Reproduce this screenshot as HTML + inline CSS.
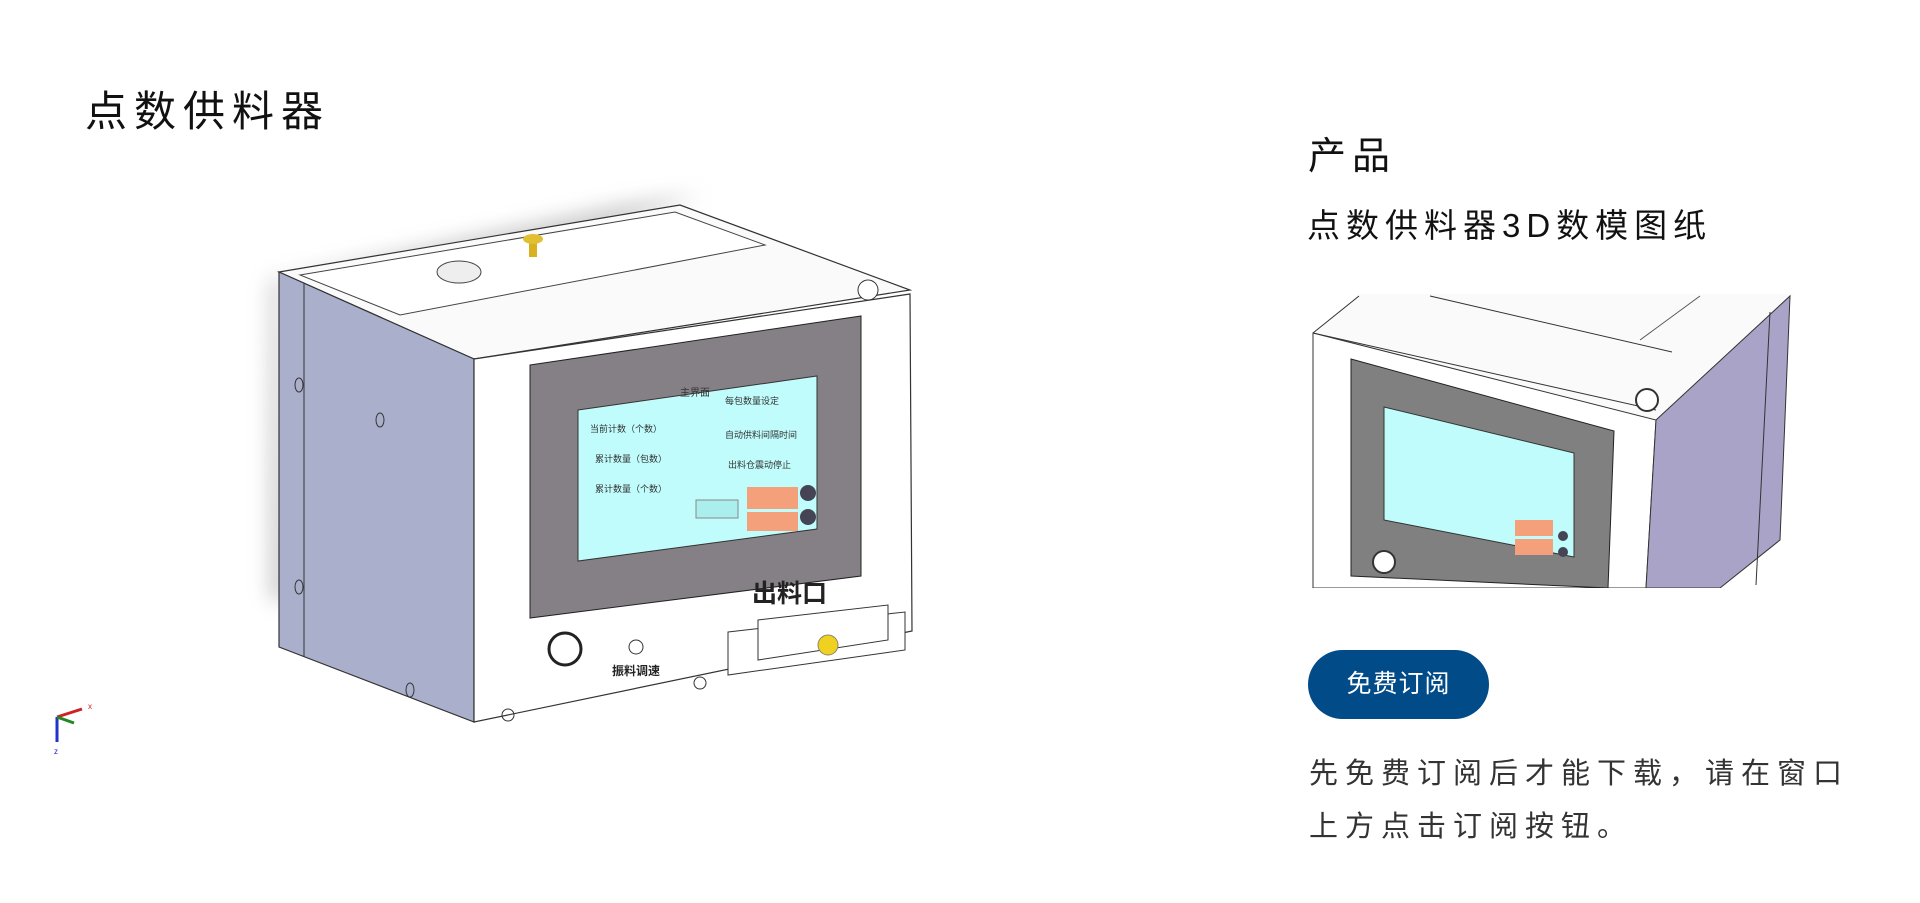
<!DOCTYPE html>
<html><head><meta charset="utf-8"><style>
html,body{margin:0;padding:0;background:#fff;width:1920px;height:903px;overflow:hidden;font-family:"Liberation Sans","Noto Sans CJK SC",sans-serif;}
.t{position:absolute;white-space:nowrap;color:#111;}
</style></head><body>
<div class="t" style="left:85px;top:78px;font-size:42px;letter-spacing:7px;">点数供料器</div>
<svg style="position:absolute;left:0;top:0" width="1920" height="903">
<defs><filter id="b" x="-50%" y="-50%" width="200%" height="200%"><feGaussianBlur stdDeviation="10"/></filter></defs>
<polygon points="270,280 620,205 700,195 560,250 280,280 290,600 270,600" fill="#999" opacity="0.5" filter="url(#b)"/>
<polygon points="279,272 680,205 910,290 474,359" fill="#fafafa" stroke="#333" stroke-width="1.2"/>
<polygon points="300,275 675,212 765,245 400,315" fill="#fff" stroke="#444" stroke-width="1"/>
<ellipse cx="459" cy="272" rx="22" ry="11" fill="#eee" stroke="#444"/>
<rect x="529" y="239" width="8" height="18" fill="#d8b020"/><ellipse cx="533" cy="239" rx="10" ry="5" fill="#e0c030"/>
<circle cx="868" cy="290" r="10" fill="#fff" stroke="#333"/>
<polygon points="279,272 474,359 474,722 279,647" fill="#aab0cc" stroke="#333" stroke-width="1.2"/>
<line x1="304" y1="283" x2="304" y2="657" stroke="#333"/>
<ellipse cx="299" cy="385" rx="4" ry="7" fill="none" stroke="#333"/>
<ellipse cx="380" cy="420" rx="4" ry="7" fill="none" stroke="#333"/>
<ellipse cx="299" cy="587" rx="4" ry="7" fill="none" stroke="#333"/>
<ellipse cx="410" cy="690" rx="4" ry="7" fill="none" stroke="#333"/>
<polygon points="474,359 910,294 912,631 474,722" fill="#fff" stroke="#333" stroke-width="1.2"/>
<polygon points="530,365 861,316 861,576 530,618" fill="#858085" stroke="#222"/>
<polygon points="578,410 817,376 817,529 578,561" fill="#c0fcfc" stroke="#333"/>
<rect x="747" y="487" width="51" height="22" fill="#f4a07a"/>
<rect x="747" y="512" width="51" height="19" fill="#f4a07a"/>
<circle cx="808" cy="493" r="8" fill="#445"/><circle cx="808" cy="517" r="8" fill="#445"/>
<rect x="696" y="500" width="42" height="18" fill="#aee" stroke="#888"/>
<text x="680" y="396" font-size="10" fill="#333">主界面</text>
<text x="590" y="432" font-size="9" fill="#333">当前计数（个数）</text>
<text x="595" y="462" font-size="9" fill="#333">累计数量（包数）</text>
<text x="595" y="492" font-size="9" fill="#333">累计数量（个数）</text>
<text x="725" y="404" font-size="9" fill="#333">每包数量设定</text>
<text x="725" y="438" font-size="9" fill="#333">自动供料间隔时间</text>
<text x="728" y="468" font-size="9" fill="#333">出料仓震动停止</text>
<text x="752" y="602" font-size="25" font-weight="bold" fill="#222">出料口</text>
<polygon points="728,632 905,612 905,650 728,675" fill="#fff" stroke="#333"/>
<polygon points="758,620 888,605 888,640 758,660" fill="#fff" stroke="#333"/>
<circle cx="828" cy="645" r="10" fill="#f0d020" stroke="#886"/>
<circle cx="565" cy="649" r="16" fill="#fff" stroke="#222" stroke-width="3"/>
<circle cx="636" cy="647" r="7" fill="#fff" stroke="#333"/>
<text x="612" y="675" font-size="12" font-weight="bold" fill="#222">振料调速</text>
<circle cx="700" cy="683" r="6" fill="none" stroke="#333"/><circle cx="508" cy="715" r="6" fill="none" stroke="#333"/>
<line x1="57" y1="717" x2="57" y2="742" stroke="#2233cc" stroke-width="3"/>
<line x1="57" y1="717" x2="82" y2="709" stroke="#cc2222" stroke-width="3"/>
<line x1="57" y1="717" x2="74" y2="723" stroke="#228822" stroke-width="3"/>
<text x="88" y="709" font-size="8" fill="#c22">x</text><text x="54" y="754" font-size="8" fill="#22c">z</text>
<polygon points="1313,333 1359,294 1794,294 1656,429" fill="#fafafa"/>
<line x1="1313" y1="333" x2="1656" y2="410" stroke="#333"/>
<line x1="1313" y1="333" x2="1359" y2="296" stroke="#333"/>
<line x1="1430" y1="296" x2="1672" y2="352" stroke="#333"/>
<line x1="1640" y1="340" x2="1700" y2="296" stroke="#555"/>
<polygon points="1313,333 1656,420 1646,588 1313,588" fill="#fff" stroke="#333"/>
<polygon points="1656,420 1790,296 1780,540 1720,588 1646,588" fill="#a9a3c8" stroke="#333"/>
<line x1="1770" y1="312" x2="1756" y2="585" stroke="#333"/>
<polygon points="1351,359 1614,431 1608,588 1351,576" fill="#808080" stroke="#222"/>
<polygon points="1384,407 1574,453 1574,557 1384,520" fill="#c0fcfc" stroke="#333"/>
<rect x="1515" y="520" width="38" height="16" fill="#f4a07a"/><rect x="1515" y="539" width="38" height="16" fill="#f4a07a"/>
<circle cx="1563" cy="536" r="5" fill="#445"/><circle cx="1563" cy="552" r="5" fill="#445"/>
<circle cx="1647" cy="400" r="11" fill="#fff" stroke="#333" stroke-width="2"/>
<circle cx="1384" cy="562" r="11" fill="#fff" stroke="#333" stroke-width="2"/>
<rect x="1290" y="588" width="540" height="40" fill="#fff"/>
</svg>
<div class="t" style="left:1308px;top:125px;font-size:38px;letter-spacing:6px;">产品</div>
<div class="t" style="left:1307px;top:199px;font-size:33px;letter-spacing:6px;">点数供料器3D数模图纸</div>
<div style="position:absolute;left:1308px;top:650px;width:181px;height:69px;border-radius:35px;background:#014b88;color:#fff;font-size:25px;line-height:69px;text-align:center;letter-spacing:1px;">免费订阅</div>
<div class="t" style="left:1309px;top:748px;font-size:29px;line-height:53px;letter-spacing:7px;color:#333;white-space:normal;width:600px;">先免费订阅后才能下载，请在窗口<br>上方点击订阅按钮。</div>
</body></html>
